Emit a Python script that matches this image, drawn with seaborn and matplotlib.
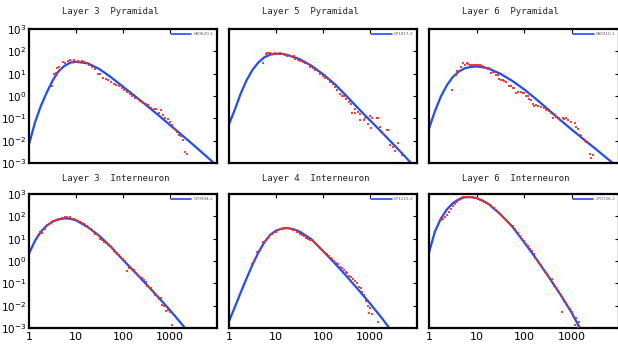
import matplotlib
matplotlib.use("Agg")
import matplotlib.pyplot as plt
import seaborn as sns
from matplotlib.ticker import FixedLocator, FixedFormatter, NullLocator

# ------------------------------------------------------------------ data
TITLES = ["Layer 3  Pyramidal", "Layer 5  Pyramidal", "Layer 6  Pyramidal",
          "Layer 3  Interneuron", "Layer 4  Interneuron", "Layer 6  Interneuron"]
CELL_IDS = ["080620-1", "071017-2", "080310-1", "070904-2", "071210-2", "070726-1"]

X_TICKS = [1, 10, 100, 1000, 10000]
X_TICK_LABELS = ["1", "10", "100", "1000", ""]
Y_TICKS = [1e-3, 1e-2, 1e-1, 1e0, 1e1, 1e2, 1e3]
Y_TICK_LABELS = [r"$10^{-3}$", r"$10^{-2}$", r"$10^{-1}$", r"$10^{0}$",
                 r"$10^{1}$", r"$10^{2}$", r"$10^{3}$"]

# --- Layer 3 pyramidal
l3p_fit_x = [1, 1.334, 1.778, 2.371, 3.162, 4.217, 5.623, 7.499, 10, 17.78, 31.62,
             56.23, 100, 177.8, 316.2, 562.3, 1000, 1778, 3162, 5623, 10000]
l3p_fit_y = [0.0068, 0.063, 0.35, 1.4, 4.8, 12.6, 22, 31, 34, 29, 16,
             6.8, 2.6, 1.0, 0.38, 0.14, 0.05, 0.018, 0.0064, 0.0022, 0.00075]
l3p_x = [3.13, 3.44, 3.73, 3.98, 4.4, 4.77, 5.35, 5.9, 6.6, 7.4, 8.1, 9.0, 10, 11.1,
         12.4, 13.7, 15.1, 17, 19, 21.7, 25, 29, 33, 37.7, 43, 49, 56, 63, 72, 82, 93,
         107, 122, 138, 158, 178, 204, 234, 265, 302, 347, 390, 447, 513, 575, 630,
         708, 794, 891, 1000, 1120, 1260, 1380, 1550, 1740, 1860, 2040, 2290]
l3p_y = [2.75, 9.5, 11.2, 17.8, 19, 15.8, 33, 29, 38, 41, 34, 39, 34, 38, 35, 36, 33,
         29, 25, 19, 15.5, 10, 10, 6.7, 5.6, 5.1, 4.2, 3.6, 3.2, 2.75, 2.3, 1.95, 1.58,
         1.29, 1.05, 0.85, 0.74, 0.6, 0.49, 0.44, 0.4, 0.3, 0.27, 0.26, 0.17, 0.23,
         0.14, 0.107, 0.093, 0.066, 0.05, 0.032, 0.025, 0.018, 0.016, 0.011, 0.003, 0.0026]

# --- Layer 5 pyramidal
l5p_fit_x = [1, 1.334, 1.778, 2.371, 3.162, 4.217, 5.623, 7.499, 10, 13.34, 17.78,
             31.62, 56.23, 100, 177.8, 316.2, 562.3, 1000, 1778, 3162, 5623, 10000]
l5p_fit_y = [0.054, 0.25, 1.3, 5.1, 14.8, 31.6, 54, 71, 78, 78, 68,
             45, 23, 9.5, 3.4, 1.0, 0.28, 0.081, 0.024, 0.0068, 0.0019, 0.00052]
l5p_x = [5.25, 6.0, 6.5, 7.05, 7.6, 8.3, 9.0, 9.75, 10.6, 11.9, 12.9, 14.2, 15.9, 17.3,
         19.6, 22, 23.9, 25.9, 29, 33, 37.7, 42, 47, 54, 61, 69, 77, 88, 100, 112, 126,
         143, 163, 182, 198, 225, 252, 283, 312, 350, 392, 412, 470, 485, 543, 599, 620,
         728, 790, 885, 977, 1040, 1130, 1400, 1510, 1640, 1860, 2270, 2460, 2690, 3160,
         3400, 4000, 4360, 4730]
l5p_y = [29.5, 75, 83, 81, 83, 75, 75, 80, 75, 83, 75, 75, 70, 65, 61, 57, 61, 45, 42,
         38, 33, 29.5, 26.7, 20, 17.6, 15.3, 13.4, 10.1, 7.9, 6.7, 5.6, 4.4, 3.4, 2.5,
         1.8, 1.28, 1.05, 1.0, 0.71, 0.56, 0.43, 0.18, 0.18, 0.25, 0.2, 0.16, 0.081,
         0.081, 0.1, 0.054, 0.126, 0.038, 0.1, 0.107, 0.107, 0.041, 0.019, 0.029, 0.029,
         0.0063, 0.0051, 0.0034, 0.008, 0.0034, 0.0024]

# --- Layer 6 pyramidal
l6p_fit_x = [1, 1.334, 1.778, 2.371, 3.162, 4.217, 5.623, 7.499, 10, 13.34, 17.78,
             31.62, 56.23, 100, 177.8, 316.2, 562.3, 1000, 1778, 3162, 5623, 10000]
l6p_fit_y = [0.035, 0.21, 0.95, 3.0, 7.1, 12.3, 17.4, 20, 21, 19.5, 17,
             10, 4.8, 2.0, 0.74, 0.26, 0.089, 0.032, 0.0117, 0.0044, 0.0016, 0.0006]
l6p_x = [3.11, 3.37, 3.66, 3.97, 4.3, 4.67, 5.23, 5.67, 6.25, 6.67, 7.35, 7.96, 8.65,
         9.4, 10.2, 11.0, 11.9, 13.0, 14.1, 15.2, 17.1, 18.5, 20.1, 21.8, 23.6, 25.6,
         27.8, 30.1, 32.7, 35.4, 38.4, 41.7, 49, 53, 57.6, 62.5, 67.8, 73.5, 86.5, 93.8,
         102, 110, 119, 130, 141, 152, 165, 179, 194, 229, 269, 292, 343, 372, 403, 437,
         474, 557, 656, 711, 771, 837, 984, 1160, 1260, 1360, 1480, 1600, 1880, 2040,
         2400, 2600, 2820]
l6p_y = [1.9, 7.6, 9.0, 12.7, 13.6, 19.3, 30, 25.5, 30, 27, 23.8, 25.5, 25.5, 25.5,
         25.5, 25.5, 23.8, 23, 20, 18, 16.8, 18, 10.7, 11.5, 11.5, 9.0, 8.4, 5.9, 5.4,
         5.0, 4.5, 4.2, 2.7, 2.7, 2.4, 2.25, 1.35, 1.45, 1.45, 1.35, 1.35, 0.95, 0.95,
         0.74, 0.68, 0.46, 0.37, 0.4, 0.37, 0.32, 0.3, 0.24, 0.21, 0.17, 0.1, 0.15, 0.12,
         0.107, 0.1, 0.093, 0.107, 0.084, 0.066, 0.059, 0.042, 0.035, 0.018, 0.0166,
         0.0095, 0.0089, 0.0026, 0.0016, 0.0022]

# --- Layer 3 interneuron
l3i_fit_x = [1, 1.334, 1.778, 2.371, 3.162, 4.217, 5.623, 7.499, 10, 17.78, 31.62,
             56.23, 100, 177.8, 316.2, 562.3, 1000, 1778, 3162]
l3i_fit_y = [2.14, 7.9, 20, 38, 57.5, 74, 81, 78, 66, 33, 13.2,
             4.17, 1.12, 0.32, 0.089, 0.024, 0.0063, 0.0015, 0.00035]
l3i_x = [1.585, 1.738, 1.862, 2.089, 2.239, 2.455, 2.692, 2.951, 3.236, 3.548, 3.802,
         4.169, 4.571, 5.012, 5.37, 5.888, 6.457, 6.918, 7.586, 8.318, 9.12, 10, 10.96,
         12.02, 13.18, 14.45, 15.85, 17.38, 19.05, 20.89, 22.91, 25.12, 27.54, 30.2,
         33.11, 36.31, 39.81, 43.65, 47.86, 52.48, 57.54, 63.1, 69.18, 75.86, 83.18,
         91.2, 100, 109.6, 120.2, 131.8, 144.5, 158.5, 173.8, 190.5, 208.9, 229.1, 251.2,
         275.4, 302, 331.1, 363.1, 398.1, 436.5, 478.6, 524.8, 575.4, 631, 691.8, 758.6,
         831.8, 912, 1000, 1096]
l3i_y = [14.1, 20, 17.8, 31.6, 28.2, 39.8, 45.7, 52.5, 60.3, 63.1, 70.8, 69.2, 79.4,
         85.1, 79.4, 93.3, 89.1, 85.1, 89.1, 79.4, 75.9, 66.1, 63.1, 57.5, 52.5, 45.7,
         41.7, 35.5, 30.2, 26.3, 21.4, 16.6, 15.8, 12.6, 10, 8.9, 7.1, 6.3, 5.0, 4.47,
         3.8, 2.82, 2.63, 2.14, 1.78, 1.41, 1.2, 1.0, 0.355, 0.5, 0.5, 0.417, 0.398,
         0.282, 0.24, 0.19, 0.178, 0.141, 0.112, 0.0794, 0.066, 0.0603, 0.0447, 0.0316,
         0.0282, 0.02, 0.0224, 0.0112, 0.01, 0.00562, 0.00631, 0.00501, 0.00141]

# --- Layer 4 interneuron
l4i_fit_x = [1, 1.334, 1.778, 2.371, 3.162, 4.217, 5.623, 7.499, 10, 13.34, 17.78,
             23.71, 31.62, 56.23, 100, 177.8, 316.2, 562.3, 1000, 1778, 3162]
l4i_fit_y = [0.002, 0.0087, 0.039, 0.17, 0.68, 2.4, 6.76, 14.8, 22.9, 28.2, 29.5,
             26.3, 20.9, 9.55, 2.82, 0.794, 0.209, 0.0525, 0.0126, 0.00282, 0.000562]
l4i_x = [3.162, 3.548, 3.981, 4.467, 5.248, 5.754, 6.31, 6.918, 7.586, 8.318, 9.12, 10,
         10.96, 12.02, 13.18, 14.45, 15.85, 17.38, 19.05, 20.89, 22.91, 25.12, 27.54,
         30.2, 33.11, 36.31, 39.81, 43.65, 47.86, 52.48, 57.54, 63.1, 69.18, 75.86,
         83.18, 91.2, 100, 109.6, 120.2, 131.8, 144.5, 158.5, 173.8, 190.5, 208.9,
         229.1, 251.2, 275.4, 302, 331.1, 363.1, 398.1, 436.5, 478.6, 524.8, 575.4, 631,
         691.8, 758.6, 831.8, 912, 955, 1000, 1096, 1514]
l4i_y = [0.759, 1.26, 2.51, 3.16, 7.24, 7.24, 9.55, 11.2, 14.1, 16.6, 19.1, 20.9, 24,
         26.9, 28.2, 31.6, 28.8, 31.6, 29.5, 28.2, 25.1, 24, 20.9, 20, 16.6, 14.1, 13.2,
         11.2, 10, 8.32, 8.32, 7.08, 6.31, 5.25, 4.17, 3.55, 2.82, 2.4, 2.0, 1.66, 1.41,
         1.2, 1.0, 0.794, 0.759, 0.562, 0.501, 0.38, 0.316, 0.282, 0.224, 0.191, 0.151,
         0.126, 0.1, 0.0708, 0.0631, 0.0398, 0.0316, 0.0158, 0.01, 0.00447, 0.00794,
         0.00417, 0.00178]

# --- Layer 6 interneuron
l6i_fit_x = [1, 1.334, 1.778, 2.371, 3.162, 4.217, 5.623, 7.499, 10, 13.34, 17.78,
             31.62, 56.23, 100, 177.8, 316.2, 562.3, 1000, 1778]
l6i_fit_y = [2.4, 20.9, 79.4, 200, 389, 575, 708, 724, 661, 513, 363,
             126, 35.5, 7.08, 1.32, 0.224, 0.0355, 0.00501, 0.000501]
l6i_x = [1.778, 1.95, 2.138, 2.399, 2.63, 2.884, 3.162, 3.548, 3.981, 4.365, 4.786,
         5.248, 5.754, 6.31, 6.918, 7.586, 8.318, 9.12, 10, 10.96, 12.02, 13.18, 14.45,
         15.85, 17.38, 19.05, 20.89, 22.91, 25.12, 27.54, 30.2, 33.11, 36.31, 39.81,
         43.65, 47.86, 52.48, 57.54, 63.1, 69.18, 75.86, 83.18, 91.2, 100, 109.6, 120.2,
         131.8, 144.5, 158.5, 173.8, 190.5, 208.9, 229.1, 251.2, 275.4, 302, 331.1,
         363.1, 398.1, 436.5, 478.6, 524.8, 575.4, 631, 691.8, 758.6, 831.8, 912, 1000,
         1096, 616.6, 1202, 1259, 1349, 1413]
l6i_y = [70.8, 79.4, 89.1, 112, 158, 224, 282, 355, 447, 525, 631, 759, 759, 741, 741,
         724, 708, 676, 646, 603, 550, 501, 447, 398, 363, 316, 275, 240, 200, 166, 138,
         112, 95.5, 79.4, 63.1, 52.5, 41.7, 35.5, 27.5, 21.9, 17.8, 13.2, 10, 7.59, 6.03,
         4.47, 3.55, 2.69, 2.0, 1.41, 1.07, 0.794, 0.631, 0.447, 0.331, 0.251, 0.191,
         0.141, 0.158, 0.0794, 0.0603, 0.0447, 0.0331, 0.0251, 0.0166, 0.0126, 0.00891,
         0.00708, 0.00501, 0.00355, 0.00501, 0.00141, 0.00282, 0.00112, 0.00178]

FITS_X = [l3p_fit_x, l5p_fit_x, l6p_fit_x, l3i_fit_x, l4i_fit_x, l6i_fit_x]
FITS_Y = [l3p_fit_y, l5p_fit_y, l6p_fit_y, l3i_fit_y, l4i_fit_y, l6i_fit_y]
DOTS_X = [l3p_x, l5p_x, l6p_x, l3i_x, l4i_x, l6i_x]
DOTS_Y = [l3p_y, l5p_y, l6p_y, l3i_y, l4i_y, l6i_y]

# ------------------------------------------------------------------ style
sns.set_theme(style="white")
plt.rcParams["font.family"] = ["DejaVu Sans"]

W, H = 618, 345
fig = plt.figure(figsize=(W / 100, H / 100), dpi=100)
fig.patch.set_facecolor("white")

# axes rectangles in pixels: left, top, width, height
PANELS_PX = [(29, 29, 188, 134), (229, 29, 188, 134), (429, 29, 190, 134),
             (29, 194, 188, 134), (229, 194, 188, 134), (429, 194, 190, 134)]
TITLE_PX = [(62, 11), (262.5, 11), (462.5, 11),
            (62, 178.5), (262.5, 178.5), (462.5, 178.5)]

LINE_COLOR = "#1f4cff"
DOT_COLOR = "#ff2a1a"

for i in range(6):
    l, t, w, h = PANELS_PX[i]
    ax = fig.add_axes([l / W, 1 - (t + h) / H, w / W, h / H])
    ax.set_xscale("log")
    ax.set_yscale("log")
    ax.set_facecolor("white")

    sns.lineplot(x=FITS_X[i], y=FITS_Y[i], ax=ax, color=LINE_COLOR, linewidth=1.6,
                 label=CELL_IDS[i], zorder=2)
    sns.scatterplot(x=DOTS_X[i], y=DOTS_Y[i], ax=ax, color=DOT_COLOR, marker="s",
                    s=3.0, linewidth=0, alpha=0.9, zorder=3)

    ax.set_xlim(1, 10000)
    ax.set_ylim(1e-3, 1e3)
    ax.xaxis.set_major_locator(FixedLocator(X_TICKS))
    ax.xaxis.set_major_formatter(FixedFormatter(X_TICK_LABELS))
    ax.xaxis.set_minor_locator(NullLocator())
    ax.yaxis.set_major_locator(FixedLocator(Y_TICKS))
    ax.yaxis.set_major_formatter(FixedFormatter(Y_TICK_LABELS))
    ax.yaxis.set_minor_locator(NullLocator())
    ax.set_xlabel("")
    ax.set_ylabel("")
    ax.grid(False)

    for sp in ax.spines.values():
        sp.set_visible(True)
        sp.set_color("black")
        sp.set_linewidth(1.6)

    ax.tick_params(axis="both", which="major", direction="in", length=3, width=0.8,
                   color="black", top=True, right=True, labelcolor="black")
    ax.tick_params(axis="x", labelsize=8, pad=3)
    ax.tick_params(axis="y", labelsize=7.5, pad=2)
    if i % 3 != 0:
        ax.tick_params(labelleft=False)
    if i < 3:
        ax.tick_params(labelbottom=False)

    leg = ax.legend(loc="upper right", fontsize=3, frameon=False, handlelength=5,
                    handletextpad=0.6, borderaxespad=0.4, labelcolor="#555555")
    for ln in leg.get_lines():
        ln.set_linewidth(1.2)

    tx, ty = TITLE_PX[i]
    fig.text(tx / W, 1 - ty / H, TITLES[i], ha="left", va="center",
             fontsize=6.4, family=["DejaVu Sans Mono"], color="#222222")

fig.savefig("out.png", dpi=100, facecolor="white")
